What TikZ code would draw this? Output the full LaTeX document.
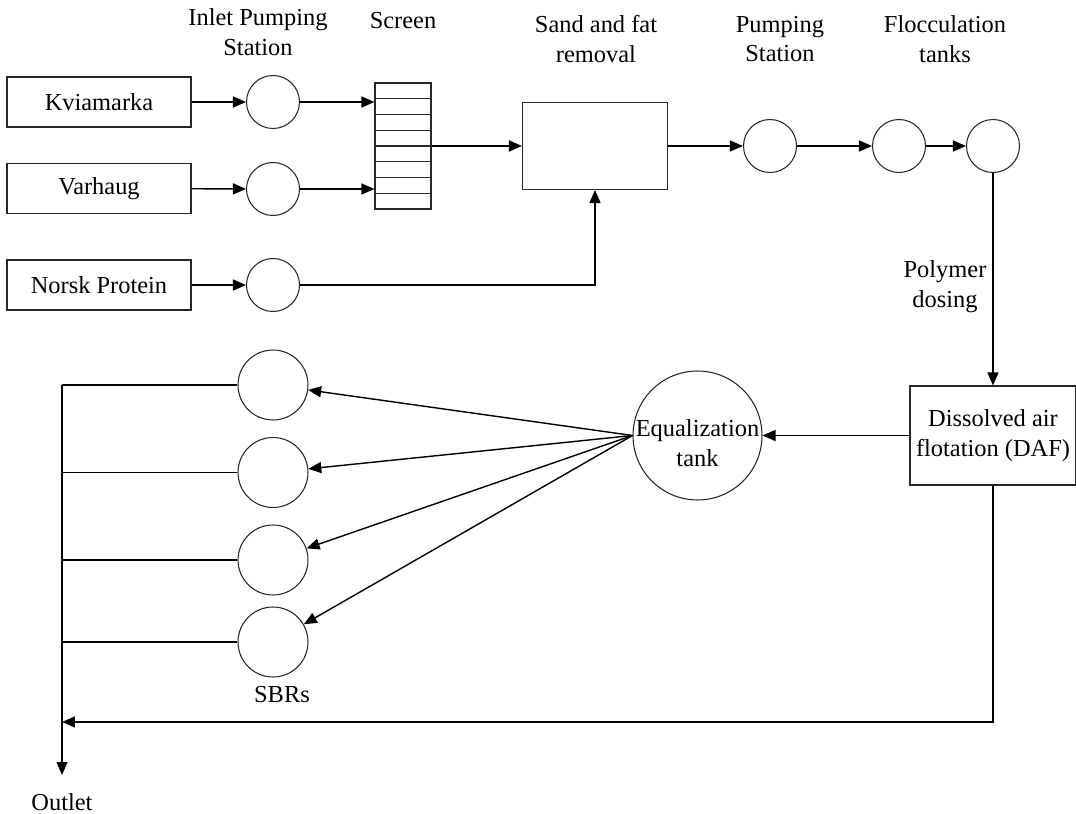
\documentclass[tikz,border=0pt]{standalone}
\usepackage{fontspec}
\setmainfont{Liberation Serif}
\usetikzlibrary{arrows.meta,calc,positioning}
\tikzset{
  >={Triangle[length=2.6mm,width=2.2mm]},
  wbox/.style={draw=black!85, line width=0.6pt, inner sep=0pt, align=center},
  wpump/.style={circle, draw=black!85, line width=0.6pt, minimum size=10.6mm, inner sep=0pt},
  wsbr/.style={circle, draw=black!85, line width=0.6pt, minimum size=14mm, inner sep=0pt},
  wtank/.style={circle, draw=black!85, line width=0.6pt, minimum size=25.8mm, inner sep=0pt},
  wflow/.style={->, line width=0.8pt},
  wpipe/.style={line width=0.8pt},
  wlbl/.style={align=center, inner sep=1pt},
}

\begin{document}
\begin{tikzpicture}[x=0.02cm, y=-0.02cm, font=\fontsize{13.9pt}{17pt}\selectfont]

  \useasboundingbox (0,0) rectangle (1076,814);

  % sources and inlet pumps
  \node[wbox, minimum width=36.8mm, minimum height=10mm] (kvia)  at (99,102)   {Kviamarka};
  \node[wbox, minimum width=36.8mm, minimum height=10mm] (varh)  at (99,188.5) {Varhaug};
  \node[wbox, minimum width=36.8mm, minimum height=10mm] (norsk) at (99,285)   {Norsk Protein};
  \node[wpump] (ip1) at (273,102) {};
  \node[wpump] (ip2) at (273,189) {};
  \node[wpump] (ip3) at (273,285) {};

  % screen, sand and fat removal, pumps, flocculation
  \node[wbox, minimum width=11.2mm, minimum height=25.2mm] (screen) at (403,146) {};
  \foreach \k in {1,...,7}
    \draw[line width=0.6pt, black!85]
      ($(screen.north west)!\k/8!(screen.south west)$) -- ($(screen.north east)!\k/8!(screen.south east)$);
  \node[wbox, minimum width=29mm, minimum height=17.4mm] (sand) at (595,146) {};
  \node[wpump] (ps)  at (770,146) {};
  \node[wpump] (fl1) at (899,146) {};
  \node[wpump] (fl2) at (993,146) {};

  % DAF, equalization, SBRs
  \node[wbox, minimum width=33.2mm, minimum height=19.8mm] (daf) at (993,435.5)
    {Dissolved air\\flotation (DAF)};
  \node[wtank, label={[wlbl, yshift=-0.16cm]center:Equalization\\tank}] (eq) at (697.5,435.5) {};
  \foreach \y [count=\i] in {385,472.5,560,642}
    \node[wsbr] (sbr\i) at (273,\y) {};

  % labels
  \node[wlbl] (lblip)   at (258,32)  {Inlet Pumping\\Station};
  \node[wlbl] (lblscr)  at (403,21)  {Screen};
  \node[wlbl] (lblsand) at (596,39)  {Sand and fat\\removal};
  \node[wlbl] (lblps)   at (780,39)  {Pumping\\Station};
  \node[wlbl] (lblfl)   at (945,39)  {Flocculation\\tanks};
  \node[wlbl] (lblpoly) at (945,287) {Polymer\\dosing};
  \node[wlbl] (lblsbr)  at (282,695) {SBRs};
  \node[wlbl] (outlet)  at (62,802)  {Outlet};

  % flow
  \draw[wflow] (kvia)  -- (ip1);
  \draw[wflow] (varh)  -- (ip2);
  \draw[wflow] (norsk) -- (ip3);
  \draw[wflow] (ip1) -- (ip1 -| screen.west);
  \draw[wflow] (ip2) -- (ip2 -| screen.west);
  \draw[wflow] (screen) -- (sand);
  \draw[wflow] (ip3) -| (sand.south);
  \draw[wflow] (sand) -- (ps);
  \draw[wflow] (ps) -- (fl1);
  \draw[wflow] (fl1) -- (fl2);
  \draw[wflow] (fl2) -- (daf);
  \draw[wflow] (daf) -- (eq);
  \foreach \i in {1,...,4}
    \draw[wflow] (eq.west) -- (sbr\i);

  % outlet
  \coordinate (outtop) at (62,385);
  \coordinate (outtip) at (62,775);
  \coordinate (ret)    at (62,722);
  \foreach \i in {1,...,4}
    \draw[wpipe] (sbr\i.west) -- (sbr\i.west -| outtop);
  \draw[wflow] (outtop) -- (outtip);
  \draw[wflow] (daf.south) |- (ret);

\end{tikzpicture}
\end{document}
